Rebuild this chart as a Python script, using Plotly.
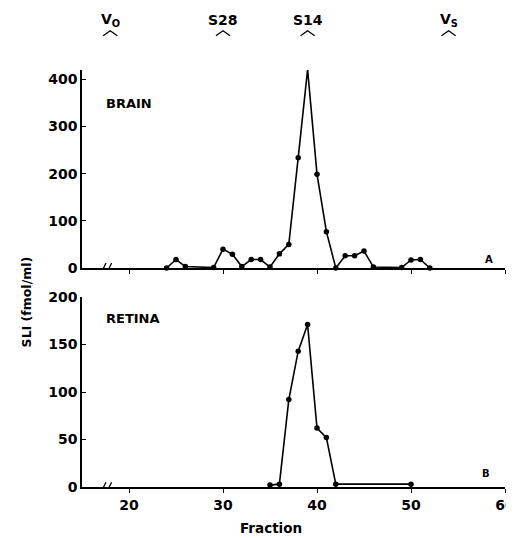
import plotly.graph_objects as go

brain_fraction = [24, 25, 26, 29, 30, 31, 32, 33, 34, 35, 36, 37, 38, 39, 40, 41, 42, 43, 44, 45, 46, 49, 50, 51, 52]
brain_sli = [0, 18, 3, 1, 40, 29, 3, 18, 18, 2, 30, 50, 234, 421, 199, 77, 0, 26, 26, 36, 2, 1, 17, 18, 0]

retina_fraction = [35, 36, 37, 38, 39, 40, 41, 42, 50]
retina_sli = [2, 3, 92, 143, 171, 62, 52, 3, 3]

marker_labels = ["V<sub>O</sub>", "S28", "S14", "V<sub>S</sub>"]
marker_fractions = [18, 30, 39, 54]

x_ticks = [20, 30, 40, 50, 60]
brain_yticks = [0, 100, 200, 300, 400]
retina_yticks = [0, 50, 100, 150, 200]

FONT = "DejaVu Sans, Arial, sans-serif"

fig = go.Figure()
fig.add_trace(go.Scatter(x=brain_fraction, y=brain_sli, mode="lines+markers",
                         line=dict(color="black", width=1.6),
                         marker=dict(color="black", size=5.5), cliponaxis=False,
                         xaxis="x", yaxis="y", showlegend=False))
fig.add_trace(go.Scatter(x=retina_fraction, y=retina_sli, mode="lines+markers",
                         line=dict(color="black", width=1.6),
                         marker=dict(color="black", size=5.5), cliponaxis=False,
                         xaxis="x2", yaxis="y2", showlegend=False))

axis_common = dict(showgrid=False, zeroline=False, showline=True, linecolor="black",
                   linewidth=1.5, tickcolor="black", automargin=False,
                   tickfont=dict(family=FONT, size=14, color="black"))

# page body has an 8px margin, so the figure is sized and placed to compensate
fig.update_layout(
    width=506, height=530,
    margin=dict(l=74, r=9, t=62, b=51),
    plot_bgcolor="white", paper_bgcolor="white",
    xaxis=dict(axis_common, range=[15, 60], domain=[0, 1], anchor="y",
               tickvals=x_ticks, showticklabels=False, ticks="outside", ticklen=4),
    yaxis=dict(axis_common, range=[0, 420], domain=[0.5252, 1], anchor="x",
               tickvals=brain_yticks, ticktext=["<b>%d</b>" % v for v in brain_yticks],
               ticks="inside", ticklen=4),
    xaxis2=dict(axis_common, range=[15, 60], domain=[0, 1], anchor="y2",
                tickvals=x_ticks, ticktext=["<b>%d</b>" % v for v in x_ticks],
                ticks="outside", ticklen=4, ticklabeloverflow="allow"),
    yaxis2=dict(axis_common, range=[0, 200], domain=[0, 0.4556], anchor="x2",
                tickvals=retina_yticks, ticktext=["<b>%d</b>" % v for v in retina_yticks],
                ticks="inside", ticklen=4),
    font=dict(family=FONT, color="black"),
)

annotations = [
    dict(text="<b>BRAIN</b>", x=17.3, y=350, xref="x", yref="y", showarrow=False,
         xanchor="left", font=dict(size=13)),
    dict(text="<b>RETINA</b>", x=17.3, y=177, xref="x2", yref="y2", showarrow=False,
         xanchor="left", font=dict(size=13)),
    dict(text="<b>A</b>", x=58.3, y=18, xref="x", yref="y", showarrow=False, font=dict(size=10)),
    dict(text="<b>B</b>", x=58.0, y=14, xref="x2", yref="y2", showarrow=False, font=dict(size=10)),
    dict(text="<b>Fraction</b>", x=35.1, y=-0.098, xref="x2", yref="paper", showarrow=False,
         font=dict(size=13.5), yanchor="middle"),
    dict(text="<b>SLI (fmol/ml)</b>", x=-0.154, y=0.4436, xref="paper", yref="paper",
         showarrow=False, textangle=-90, font=dict(size=12.5)),
]
for lab, f in zip(marker_labels, marker_fractions):
    annotations.append(dict(text="<b>%s</b>" % lab, x=f, y=1.12, xref="x", yref="paper",
                            showarrow=False, font=dict(size=14), yanchor="middle"))
fig.update_layout(annotations=annotations)

shapes = []
for f in marker_fractions:
    shapes.append(dict(type="path", xref="x", yref="paper",
                       path="M %f 1.082 L %f 1.094 L %f 1.082" % (f - 0.75, f, f + 0.75),
                       line=dict(color="black", width=1.3)))
# axis break marks
for xa, ya, ymax in [("x", "y", 420), ("x2", "y2", 200)]:
    for dx in [17.3, 17.9]:
        shapes.append(dict(type="line", xref=xa, yref=ya, x0=dx - 0.25, x1=dx + 0.25,
                           y0=-0.025 * ymax, y1=0.025 * ymax,
                           line=dict(color="black", width=1.3)))
fig.update_layout(shapes=shapes)

fig.write_html("out.html")
